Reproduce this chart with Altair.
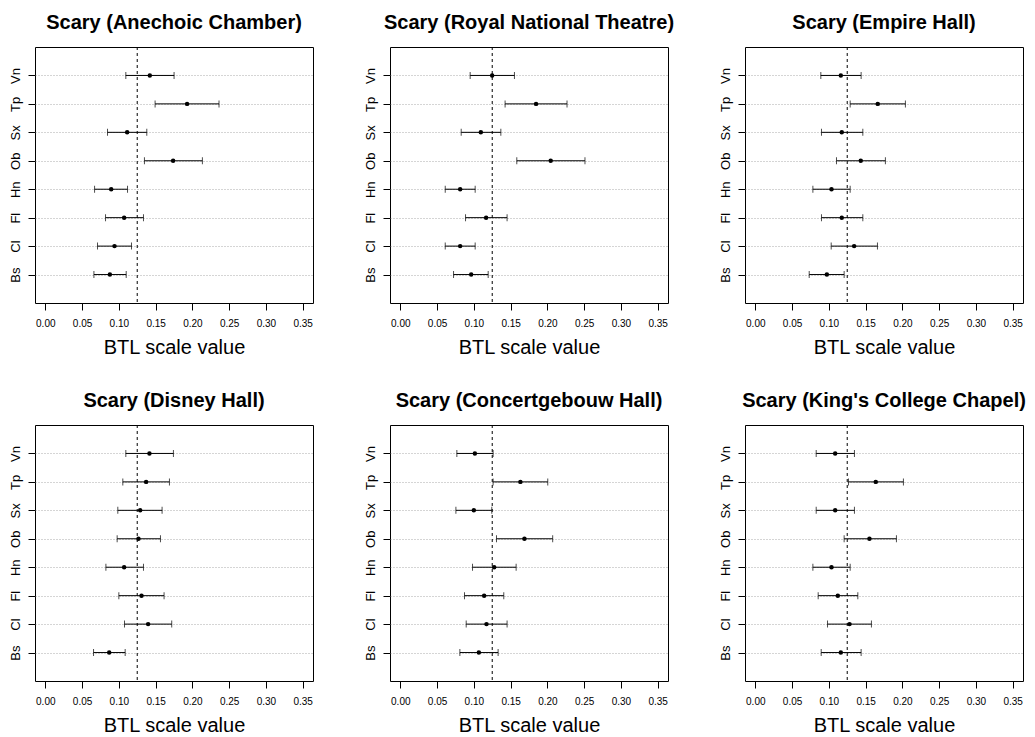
import altair as alt
import pandas as pd

halls = ["Anechoic Chamber", "Royal National Theatre", "Empire Hall",
         "Disney Hall", "Concertgebouw Hall", "King's College Chapel"]
instruments = ["Bs", "Cl", "Fl", "Hn", "Ob", "Sx", "Tp", "Vn"]
top_down = ["Vn", "Tp", "Sx", "Ob", "Hn", "Fl", "Cl", "Bs"]
x_ticks = [0.00, 0.05, 0.10, 0.15, 0.20, 0.25, 0.30, 0.35]
reference_value = 0.125

# estimates, lower and upper limits (order: Bs, Cl, Fl, Hn, Ob, Sx, Tp, Vn)
anechoic_est = [0.0878, 0.0941, 0.1072, 0.0896, 0.1738, 0.1113, 0.1928, 0.1421]
anechoic_lo = [0.0661, 0.0710, 0.0819, 0.0670, 0.1348, 0.0846, 0.1493, 0.1095]
anechoic_hi = [0.1100, 0.1172, 0.1335, 0.1118, 0.2136, 0.1380, 0.2362, 0.1751]

royal_est = [0.0964, 0.0814, 0.1167, 0.0814, 0.2045, 0.1095, 0.1846, 0.1249]
royal_lo = [0.0724, 0.0611, 0.0887, 0.0611, 0.1584, 0.0828, 0.1425, 0.0950]
royal_hi = [0.1195, 0.1018, 0.1452, 0.1018, 0.2511, 0.1367, 0.2267, 0.1552]

empire_est = [0.0973, 0.1344, 0.1176, 0.1036, 0.1434, 0.1176, 0.1665, 0.1163]
empire_lo = [0.0733, 0.1032, 0.0900, 0.0783, 0.1104, 0.0900, 0.1290, 0.0891]
empire_hi = [0.1208, 0.1661, 0.1462, 0.1290, 0.1769, 0.1462, 0.2041, 0.1439]

disney_est = [0.0869, 0.1398, 0.1308, 0.1072, 0.1267, 0.1290, 0.1371, 0.1416]
disney_lo = [0.0656, 0.1077, 0.1000, 0.0824, 0.0977, 0.0986, 0.1054, 0.1095]
disney_hi = [0.1086, 0.1719, 0.1615, 0.1335, 0.1566, 0.1588, 0.1688, 0.1742]

concert_est = [0.1068, 0.1172, 0.1140, 0.1276, 0.1688, 0.1000, 0.1633, 0.1014]
concert_lo = [0.0810, 0.0896, 0.0873, 0.0982, 0.1308, 0.0756, 0.1262, 0.0769]
concert_hi = [0.1330, 0.1452, 0.1407, 0.1575, 0.2072, 0.1244, 0.2005, 0.1262]

kings_est = [0.1163, 0.1281, 0.1122, 0.1036, 0.1552, 0.1086, 0.1638, 0.1086]
kings_lo = [0.0896, 0.0982, 0.0855, 0.0783, 0.1208, 0.0828, 0.1267, 0.0828]
kings_hi = [0.1439, 0.1579, 0.1394, 0.1290, 0.1919, 0.1348, 0.2014, 0.1348]

series = [
    (anechoic_est, anechoic_lo, anechoic_hi),
    (royal_est, royal_lo, royal_hi),
    (empire_est, empire_lo, empire_hi),
    (disney_est, disney_lo, disney_hi),
    (concert_est, concert_lo, concert_hi),
    (kings_est, kings_lo, kings_hi),
]

FONT = "Liberation Sans"


def xenc(field):
    return alt.X(
        f"{field}:Q",
        scale=alt.Scale(domain=[-0.014, 0.364], nice=False, zero=False),
        axis=alt.Axis(
            values=x_ticks, format=".2f", title="BTL scale value",
            grid=False, domain=False, tickSize=7, tickColor="black",
            labelFontSize=10, labelColor="black", labelPadding=8,
            titleFontSize=20, titleFontWeight="normal", titleColor="black",
            titlePadding=9, labelFlush=False,
        ),
    )


def yenc():
    return alt.Y(
        "inst:N",
        sort=top_down,
        scale=alt.Scale(type="point", padding=1, domain=top_down),
        axis=alt.Axis(
            title=None, labelAngle=270, labelAlign="center", labelBaseline="bottom",
            labelFontSize=13, labelColor="black", labelPadding=6,
            tickSize=7, tickColor="black", domain=False,
            grid=True, gridDash=[1, 2], gridColor="#aaaaaa", gridWidth=1,
        ),
    )


panels = []
for hall, (est, lo, hi) in zip(halls, series):
    df = pd.DataFrame({"inst": instruments, "est": est, "lo": lo, "hi": hi})
    base = alt.Chart(df)
    bars = base.mark_rule(color="black", strokeWidth=1).encode(
        x=xenc("lo"), x2="hi:Q", y=yenc())
    cap_lo = base.mark_tick(color="black", thickness=1, size=7).encode(
        x=xenc("lo"), y=yenc())
    cap_hi = base.mark_tick(color="black", thickness=1, size=7).encode(
        x=xenc("hi"), y=yenc())
    pts = base.mark_circle(color="black", size=20, opacity=1).encode(
        x=xenc("est"), y=yenc())
    ref = alt.Chart(pd.DataFrame({"ref": [reference_value]})).mark_rule(
        color="black", strokeDash=[3, 3], strokeWidth=1).encode(x=xenc("ref"))
    panel = alt.layer(ref, bars, cap_lo, cap_hi, pts).properties(
        width=278, height=256,
        title=alt.TitleParams(
            f"Scary ({hall})", fontSize=20, fontWeight="bold", font=FONT,
            color="black", anchor="middle", frame="group", offset=14,
        ),
    )
    panels.append(panel)

chart = alt.concat(
    *panels, columns=3, spacing={"row": 122, "column": 77}, bounds="flush"
).properties(
    padding={"left": 8, "top": 12, "right": 5, "bottom": 5},
    background="white",
).configure_view(
    stroke="black", strokeWidth=1
).configure_axis(
    labelFont=FONT, titleFont=FONT
).configure_title(
    font=FONT
)

chart.save("out.html", embed_options={"renderer": "svg", "actions": False})
